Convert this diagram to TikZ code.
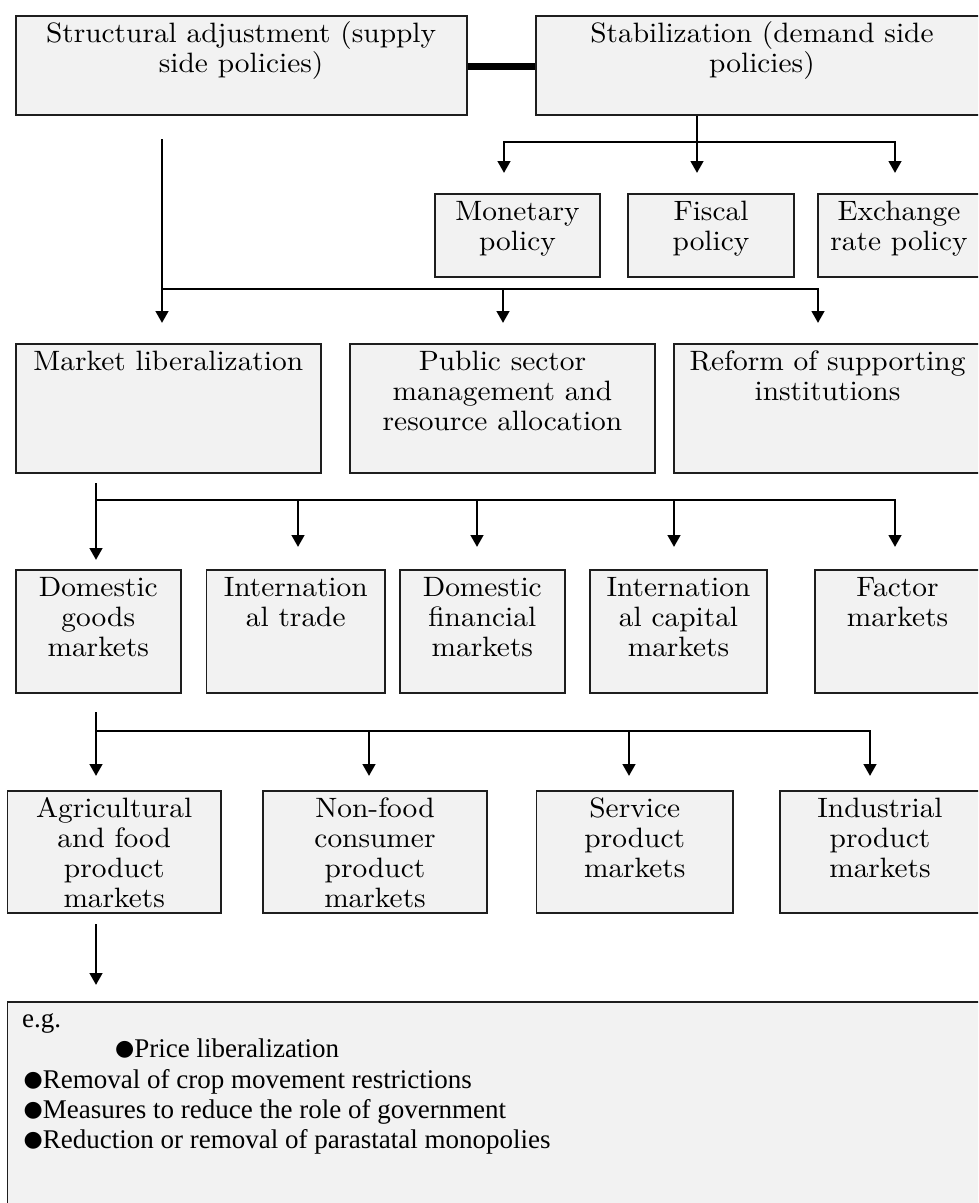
\documentclass[tikz,border=0pt]{standalone}
\usepackage{fontspec}
\newfontfamily\boxfont{lmroman10-regular.otf}[FakeStretch=1.05]
\newfontfamily\egfont{Liberation Serif}
\newfontfamily\dotfont{DejaVu Sans}
\usetikzlibrary{arrows.meta,fit}
\definecolor{boxgray}{HTML}{F2F2F2}
\definecolor{edgegray}{HTML}{1E1E1E}
% fixed height for the first line of every box text
\newcommand\firstline{\rule{0pt}{22pt}}
\newcommand\dotmark{\raisebox{1.5pt}{\dotfont\fontsize{22}{24}\selectfont ●}}
\begin{document}
\begin{tikzpicture}[x=1pt,y=-1pt,
  box/.style={draw=edgegray, line width=1.8pt, fill=boxgray, rectangle, inner sep=0pt},
  lbl/.style={anchor=north, align=center, inner sep=0pt, yshift=-5.5pt, font=\boxfont\fontsize{28}{30}\selectfont},
  eg/.style={anchor=base west, inner sep=0pt, font=\egfont\fontsize{27}{30}\selectfont},
  link/.style={line width=2.8pt},
  arr/.style={link, -{Triangle[width=12.5pt,length=12pt]}},
  tie/.style={line width=7pt}
]
\useasboundingbox (0,0) rectangle (978,1203);
\clip (0,0) rectangle (978,1203);

% ---------- boxes ----------
\node[box, fit={(15.6,15.7) (466.6,115)}] (sa) {};
\node[box, fit={(536,15.7) (988,115)}] (stab) {};

\node[box, fit={(435,194) (600,277)}] (mon) {};
\node[box, fit={(628,194) (794,277)}] (fis) {};
\node[box, fit={(818,194) (980,277)}] (exr) {};

\node[box, fit={(15.6,344) (321,473)}] (ml) {};
\node[box, fit={(350,344) (655,473)}] (psm) {};
\node[box, fit={(674,344) (981,473)}] (ref) {};

\node[box, fit={(15.6,570) (181,693)}] (dgm) {};
\node[box, fit={(206.5,570) (385,693)}] (it) {};
\node[box, fit={(400,570) (564.6,693)}] (dfm) {};
\node[box, fit={(590,570) (767,693)}] (icm) {};
\node[box, fit={(815,570) (980,693)}] (fm) {};

\node[box, fit={(7.5,791) (221,913)}] (agr) {};
\node[box, fit={(263,791) (487,913)}] (nf) {};
\node[box, fit={(536.5,791) (733,913)}] (svc) {};
\node[box, fit={(780,791) (980,913)}] (ind) {};

\node[box, fit={(7.5,1002) (1000,1240)}] (egbox) {};

% ---------- box texts ----------
\node[lbl] (saT) at (sa.north) {\firstline Structural adjustment (supply\\side policies)};
\node[lbl] (stabT) at (stab.north) {\firstline Stabilization (demand side\\policies)};
\node[lbl] (monT) at (mon.north) {\firstline Monetary\\policy};
\node[lbl] (fisT) at (fis.north) {\firstline Fiscal\\policy};
\node[lbl] (exrT) at (exr.north) {\firstline Exchange\\rate policy};
\node[lbl] (mlT) at (ml.north) {\firstline Market liberalization};
\node[lbl] (psmT) at (psm.north) {\firstline Public sector\\management and\\resource allocation};
\node[lbl] (refT) at (ref.north) {\firstline Reform of supporting\\institutions};
\node[lbl] (dgmT) at (dgm.north) {\firstline Domestic\\goods\\markets};
\node[lbl] (itT) at (it.north) {\firstline Internation\\al trade};
\node[lbl] (dfmT) at (dfm.north) {\firstline Domestic\\financial\\markets};
\node[lbl] (icmT) at (icm.north) {\firstline Internation\\al capital\\markets};
\node[lbl] (fmT) at (fm.north) {\firstline Factor\\markets};
\node[lbl] (agrT) at (agr.north) {\firstline Agricultural\\and food\\product\\markets};
\node[lbl] (nfT) at (nf.north) {\firstline Non-food\\consumer\\product\\markets};
\node[lbl] (svcT) at (svc.north) {\firstline Service\\product\\markets};
\node[lbl] (indT) at (ind.north) {\firstline Industrial\\product\\markets};

% ---------- example list ----------
\node[eg] (eg0) at (22,1027) {e.g.};
\node[eg] (eg1) at (115,1057) {\dotmark Price liberalization};
\node[eg] (eg2) at (23.5,1088) {\dotmark Removal of crop movement restrictions};
\node[eg] (eg3) at (23.5,1118) {\dotmark Measures to reduce the role of government};
\node[eg] (eg4) at (23.5,1148) {\dotmark Reduction or removal of parastatal monopolies};

% ---------- connectors ----------
\draw[tie] ([yshift=-1.6pt]sa.east) -- ([yshift=-1.6pt]stab.west);

% stabilization branches
\coordinate (stabfork) at (697,142);
\coordinate (monin) at (504,173);
\coordinate (fisin) at (697,173);
\coordinate (exrin) at (895,173);
\draw[link] (stab.south -| stabfork) -- (stabfork);
\draw[arr] (stabfork) -| (monin);
\draw[arr] (stabfork) -- (fisin);
\draw[arr] (stabfork) -| (exrin);

% structural adjustment branches
\coordinate (saout) at (162,139);
\coordinate (safork) at (162,289);
\coordinate (mlin) at (162,323);
\coordinate (psmin) at (503,323);
\coordinate (refin) at (818,323);
\draw[arr] (saout) -- (mlin);
\draw[arr] (safork) -| (psmin);
\draw[arr] (safork) -| (refin);

% market liberalization branches
\coordinate (mlout) at (96,483);
\coordinate (mlfork) at (96,500);
\coordinate (dgmin) at (96,560);
\coordinate (itin) at (298,547);
\coordinate (dfmin) at (477,547);
\coordinate (icmin) at (674,547);
\coordinate (fmin) at (895,547);
\draw[arr] (mlout) -- (dgmin);
\draw[arr] (mlfork) -| (itin);
\draw[arr] (mlfork) -| (dfmin);
\draw[arr] (mlfork) -| (icmin);
\draw[arr] (mlfork) -| (fmin);

% domestic goods markets branches
\coordinate (dgmout) at (96,712);
\coordinate (dgmfork) at (96,731);
\coordinate (agrin) at (96,776);
\coordinate (nfin) at (369,776);
\coordinate (svcin) at (629,776);
\coordinate (indin) at (870,776);
\draw[arr] (dgmout) -- (agrin);
\draw[arr] (dgmfork) -| (nfin);
\draw[arr] (dgmfork) -| (svcin);
\draw[arr] (dgmfork) -| (indin);

% agricultural markets to examples
\coordinate (agrout) at (96,924);
\coordinate (egin) at (96,985);
\draw[arr] (agrout) -- (egin);
\end{tikzpicture}
\end{document}
